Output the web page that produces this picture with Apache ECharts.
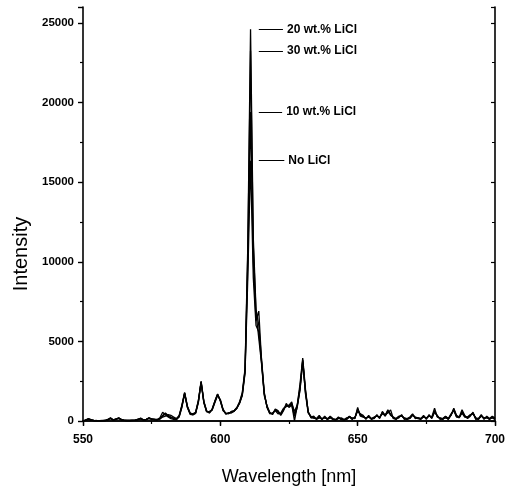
<!DOCTYPE html>
<html>
<head>
<meta charset="utf-8">
<script src="https://cdn.jsdelivr.net/npm/echarts@6/dist/echarts.min.js"></script>
<style>
html,body{margin:0;padding:0;background:#fff;}
#chart{width:508px;height:497px;}
</style>
</head>
<body>
<div id="chart"></div>
<script>
// Wavelength grid (nm)
const wavelengths = [
550,551,552,553,554,555,556,557,558,559,
560,561,562,563,564,565,566,567,568,569,
570,571,572,573,574,575,576,577,578,579,
580,581,582,583,584,585,586,587,588,589,
590,591,592,593,594,595,596,597,598,599,
600,601,602,603,604,605,606,607,608,609,
610,611,612,613,614,615,616,617,618,619,
620,621,622,623,624,625,626,627,628,629,
630,631,632,633,634,635,636,637,638,639,
640,641,642,643,644,645,646,647,648,649,
650,651,652,653,654,655,656,657,658,659,
660,661,662,663,664,665,666,667,668,669,
670,671,672,673,674,675,676,677,678,679,
680,681,682,683,684,685,686,687,688,689,
690,691,692,693,694,695,696,697,698,699,
700];

const intensityNoLiCl = [
0,60,150,60,20,20,10,20,30,80,
180,60,120,200,80,40,30,30,40,50,
100,150,60,90,200,120,100,60,150,300,
500,350,250,150,100,300,900,1750,900,450,
400,500,1200,2450,1200,600,550,700,1200,1650,
1300,700,450,500,550,600,800,1100,1600,3000,
9000,16350,9000,6000,5600,3700,1700,900,500,450,
700,600,400,700,1000,900,1100,600,1000,2100,
3850,1700,500,300,200,150,300,100,250,100,
300,100,50,200,100,50,150,300,150,200,
700,400,300,150,300,100,200,350,200,550,
300,600,400,200,100,250,350,150,100,200,
400,200,150,100,300,150,350,200,600,300,
150,100,250,100,400,700,300,200,600,300,
200,350,500,150,100,350,150,250,100,250,
150];

const intensity10 = [
0,50,130,70,20,20,20,20,30,70,
160,70,110,190,90,40,30,30,40,50,
90,160,60,100,190,130,90,70,200,550,
380,250,150,100,80,280,950,1750,880,480,
420,520,1250,2450,1180,620,520,720,1220,1680,
1280,680,480,480,560,640,820,1150,1650,3100,
9800,19400,10000,6300,6900,3800,1700,880,500,480,
680,550,450,750,950,950,1050,0,950,1900,
3800,1900,550,220,180,130,350,120,220,120,
280,120,70,180,150,60,130,280,150,180,
750,350,280,180,280,120,220,320,220,500,
320,650,450,180,120,280,320,180,120,180,
380,220,180,120,280,180,330,220,650,280,
180,120,280,120,380,750,280,220,550,280,
220,380,480,180,120,330,180,220,120,220,
150];

const intensity20 = [
0,80,100,40,30,10,20,30,20,100,
150,80,100,180,100,50,20,40,30,60,
80,180,80,100,150,140,80,100,120,250,
300,400,350,250,150,350,1000,1800,950,500,
450,550,1300,2500,1250,650,500,750,1250,1700,
1250,650,500,450,600,650,850,1200,1800,3300,
11000,24600,11500,7000,6000,3900,1800,850,450,500,
650,450,500,800,900,1000,1200,400,1000,2300,
3950,2000,550,250,300,100,200,150,200,150,
250,150,100,150,200,100,100,250,200,150,
850,300,250,200,250,150,250,300,250,450,
400,500,700,150,150,300,300,200,150,150,
350,250,200,150,250,200,300,250,800,250,
200,150,200,150,350,800,350,250,500,250,
250,400,450,200,150,300,200,200,150,200,
100];

const intensity30 = [
0,40,120,80,20,30,10,10,40,60,
200,50,130,150,60,30,40,20,50,40,
120,130,70,80,180,100,120,80,130,350,
450,300,200,200,120,250,850,1700,850,420,
380,480,1150,2400,1150,580,600,680,1150,1600,
1350,750,420,520,500,620,780,1150,1700,3200,
10500,23250,11000,6800,5200,3600,1600,950,550,400,
750,650,350,650,1100,850,1000,300,850,2000,
3700,1800,600,200,250,120,250,100,300,100,
200,100,80,250,100,80,200,250,100,250,
600,450,350,100,350,150,150,400,150,600,
350,700,350,250,150,200,400,100,150,250,
450,150,200,150,350,100,400,150,550,350,
100,150,300,150,450,650,250,250,700,350,
150,300,550,100,150,400,100,300,150,300,
200];

const seriesNames = ['No LiCl', '10 wt.% LiCl', '20 wt.% LiCl', '30 wt.% LiCl'];
const seriesValues = [intensityNoLiCl, intensity10, intensity20, intensity30];
// Annotation: label text, line start/end wavelength, level
const annotLabels = ['No LiCl', '10 wt.% LiCl', '20 wt.% LiCl', '30 wt.% LiCl'];
const annotLevels = [16350, 19400, 24600, 23250];
const annotStart = [614.0, 614.0, 614.0, 614.0];
const annotEnd = [623.3, 622.5, 622.8, 622.8];

const xTicks = [550, 600, 650, 700];
const yTicks = [0, 5000, 10000, 15000, 20000, 25000];

const FONT = '"Liberation Sans Narrow", "Arial Narrow", "Liberation Sans", Arial, sans-serif';

const chart = echarts.init(document.getElementById('chart'));

const axisCommon = {
  axisLine: { show: true, lineStyle: { color: '#000', width: 1.6 } },
  splitLine: { show: false },
  minorSplitLine: { show: false }
};

const series = seriesNames.map((name, i) => ({
  name: name,
  type: 'line',
  xAxisIndex: 0,
  yAxisIndex: 0,
  showSymbol: false,
  symbol: 'none',
  smooth: false,
  lineStyle: { color: '#000', width: 1.3 },
  data: wavelengths.map((w, k) => [w, seriesValues[i][k]]),
  markLine: {
    silent: true,
    symbol: ['none', 'none'],
    animation: false,
    lineStyle: { color: '#000', width: 1, type: 'solid' },
    label: {
      show: true,
      position: 'end',
      distance: 4,
      color: '#000',
      fontFamily: FONT,
      fontWeight: 'bold',
      fontSize: 12,
      formatter: annotLabels[i]
    },
    data: [[
      { coord: [annotStart[i], annotLevels[i]] },
      { coord: [annotEnd[i], annotLevels[i]] }
    ]]
  }
}));

const option = {
  animation: false,
  backgroundColor: '#fff',
  grid: { left: 83, right: 9, top: 7, bottom: 76, containLabel: false },
  xAxis: [
    Object.assign({}, axisCommon, {
      type: 'value', position: 'bottom', min: 550, max: 700, interval: 50,
      axisTick: { show: true, inside: false, length: 5, lineStyle: { color: '#000', width: 1.4 } },
      minorTick: { show: true, splitNumber: 2, length: 3, lineStyle: { color: '#000', width: 1.2 } },
      axisLabel: {
        color: '#000', fontFamily: FONT, fontWeight: 'bold', fontSize: 12, margin: 13,
        formatter: v => (xTicks.indexOf(v) >= 0 ? String(v) : '')
      },
      name: 'Wavelength [nm]', nameLocation: 'middle', nameGap: 47,
      nameTextStyle: { color: '#000', fontFamily: FONT, fontSize: 18 }
    }),
    Object.assign({}, axisCommon, {
      type: 'value', position: 'top', min: 550, max: 700, interval: 50,
      axisTick: { show: true, inside: true, length: 4, lineStyle: { color: '#000', width: 1.2 } },
      minorTick: { show: true, splitNumber: 2, length: 3, lineStyle: { color: '#000', width: 1 } },
      axisLabel: { show: false }
    })
  ],
  yAxis: [
    Object.assign({}, axisCommon, {
      type: 'value', position: 'left', min: 0, max: 26000, interval: 5000,
      axisTick: { show: true, inside: false, length: 5, lineStyle: { color: '#000', width: 1.4 } },
      minorTick: { show: true, splitNumber: 2, length: 3, lineStyle: { color: '#000', width: 1.2 } },
      axisLabel: {
        color: '#000', fontFamily: FONT, fontWeight: 'bold', fontSize: 11.5, margin: 9,
        formatter: v => (yTicks.indexOf(v) >= 0 ? String(v) : '')
      },
      name: 'Intensity', nameLocation: 'middle', nameGap: 43,
      nameTextStyle: { color: '#000', fontFamily: FONT, fontSize: 20, padding: [0, 80, 0, 0] }
    }),
    Object.assign({}, axisCommon, {
      type: 'value', position: 'right', min: 0, max: 26000, interval: 5000,
      axisTick: { show: true, inside: true, length: 4, lineStyle: { color: '#000', width: 1.2 } },
      minorTick: { show: true, splitNumber: 2, length: 3, lineStyle: { color: '#000', width: 1 } },
      axisLabel: { show: false }
    })
  ],
  series: series
};

chart.setOption(option);
</script>
</body>
</html>
